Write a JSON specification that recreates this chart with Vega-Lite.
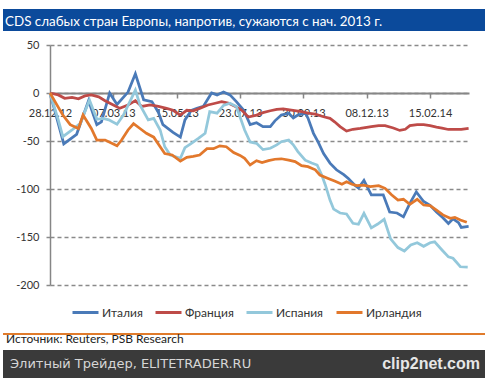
{
  "$schema": "https://vega.github.io/schema/vega-lite/v6.json",
  "background": "white",
  "padding": {"left": 3, "top": 9, "right": 4, "bottom": 0},
  "config": {"view": {"stroke": null}, "font": "Lato"},
  "datasets": {
    "cds": [
      {"country": "Италия", "date": "2012-12-28", "value": 0},
      {"country": "Италия", "date": "2013-01-12", "value": -53},
      {"country": "Италия", "date": "2013-01-26", "value": -43},
      {"country": "Италия", "date": "2013-02-08", "value": -8},
      {"country": "Италия", "date": "2013-02-17", "value": -33},
      {"country": "Италия", "date": "2013-02-22", "value": -30},
      {"country": "Италия", "date": "2013-03-03", "value": 0},
      {"country": "Италия", "date": "2013-03-11", "value": -12},
      {"country": "Италия", "date": "2013-03-23", "value": 1},
      {"country": "Италия", "date": "2013-03-31", "value": 20},
      {"country": "Италия", "date": "2013-04-09", "value": -7},
      {"country": "Италия", "date": "2013-04-18", "value": -9},
      {"country": "Италия", "date": "2013-04-25", "value": -20},
      {"country": "Италия", "date": "2013-04-30", "value": -33},
      {"country": "Италия", "date": "2013-05-11", "value": -41},
      {"country": "Италия", "date": "2013-05-19", "value": -46},
      {"country": "Италия", "date": "2013-05-24", "value": -28},
      {"country": "Италия", "date": "2013-05-31", "value": -18},
      {"country": "Италия", "date": "2013-06-06", "value": -16},
      {"country": "Италия", "date": "2013-06-13", "value": -14},
      {"country": "Италия", "date": "2013-06-22", "value": 0},
      {"country": "Италия", "date": "2013-06-28", "value": -2},
      {"country": "Италия", "date": "2013-07-05", "value": 1},
      {"country": "Италия", "date": "2013-07-12", "value": -2},
      {"country": "Италия", "date": "2013-07-19", "value": -9},
      {"country": "Италия", "date": "2013-07-27", "value": -18},
      {"country": "Италия", "date": "2013-08-03", "value": -33},
      {"country": "Италия", "date": "2013-08-10", "value": -31},
      {"country": "Италия", "date": "2013-08-17", "value": -35},
      {"country": "Италия", "date": "2013-08-25", "value": -35},
      {"country": "Италия", "date": "2013-08-30", "value": -29},
      {"country": "Италия", "date": "2013-09-06", "value": -23},
      {"country": "Италия", "date": "2013-09-14", "value": -21},
      {"country": "Италия", "date": "2013-09-19", "value": -26},
      {"country": "Италия", "date": "2013-09-24", "value": -23},
      {"country": "Италия", "date": "2013-10-02", "value": -21},
      {"country": "Италия", "date": "2013-10-05", "value": -26},
      {"country": "Италия", "date": "2013-10-11", "value": -42},
      {"country": "Италия", "date": "2013-10-16", "value": -51},
      {"country": "Италия", "date": "2013-10-22", "value": -63},
      {"country": "Италия", "date": "2013-10-29", "value": -73},
      {"country": "Италия", "date": "2013-11-05", "value": -80},
      {"country": "Италия", "date": "2013-11-13", "value": -85},
      {"country": "Италия", "date": "2013-11-18", "value": -89},
      {"country": "Италия", "date": "2013-11-25", "value": -96},
      {"country": "Италия", "date": "2013-11-29", "value": -99},
      {"country": "Италия", "date": "2013-12-05", "value": -91},
      {"country": "Италия", "date": "2013-12-13", "value": -106},
      {"country": "Италия", "date": "2013-12-26", "value": -106},
      {"country": "Италия", "date": "2014-01-02", "value": -124},
      {"country": "Италия", "date": "2014-01-10", "value": -125},
      {"country": "Италия", "date": "2014-01-17", "value": -129},
      {"country": "Италия", "date": "2014-01-24", "value": -115},
      {"country": "Италия", "date": "2014-01-31", "value": -103},
      {"country": "Италия", "date": "2014-02-08", "value": -113},
      {"country": "Италия", "date": "2014-02-15", "value": -117},
      {"country": "Италия", "date": "2014-02-22", "value": -124},
      {"country": "Италия", "date": "2014-03-01", "value": -130},
      {"country": "Италия", "date": "2014-03-07", "value": -136},
      {"country": "Италия", "date": "2014-03-12", "value": -131},
      {"country": "Италия", "date": "2014-03-18", "value": -135},
      {"country": "Италия", "date": "2014-03-21", "value": -140},
      {"country": "Италия", "date": "2014-03-29", "value": -139},

      {"country": "Франция", "date": "2012-12-28", "value": 0},
      {"country": "Франция", "date": "2013-01-06", "value": -2},
      {"country": "Франция", "date": "2013-01-13", "value": -5.5},
      {"country": "Франция", "date": "2013-01-21", "value": -4.5},
      {"country": "Франция", "date": "2013-01-28", "value": -6},
      {"country": "Франция", "date": "2013-02-04", "value": -3},
      {"country": "Франция", "date": "2013-02-11", "value": -2},
      {"country": "Франция", "date": "2013-02-19", "value": -4},
      {"country": "Франция", "date": "2013-02-26", "value": -8},
      {"country": "Франция", "date": "2013-03-07", "value": -12.5},
      {"country": "Франция", "date": "2013-03-14", "value": -16},
      {"country": "Франция", "date": "2013-03-23", "value": -12.5},
      {"country": "Франция", "date": "2013-03-31", "value": -8},
      {"country": "Франция", "date": "2013-04-07", "value": -14},
      {"country": "Франция", "date": "2013-04-16", "value": -12.5},
      {"country": "Франция", "date": "2013-04-25", "value": -14},
      {"country": "Франция", "date": "2013-05-04", "value": -16},
      {"country": "Франция", "date": "2013-05-11", "value": -18},
      {"country": "Франция", "date": "2013-05-19", "value": -23},
      {"country": "Франция", "date": "2013-05-26", "value": -18},
      {"country": "Франция", "date": "2013-06-02", "value": -18.5},
      {"country": "Франция", "date": "2013-06-09", "value": -16},
      {"country": "Франция", "date": "2013-06-18", "value": -12.5},
      {"country": "Франция", "date": "2013-06-26", "value": -10.7},
      {"country": "Франция", "date": "2013-07-03", "value": -9},
      {"country": "Франция", "date": "2013-07-10", "value": -10.5},
      {"country": "Франция", "date": "2013-07-18", "value": -14},
      {"country": "Франция", "date": "2013-07-25", "value": -18},
      {"country": "Франция", "date": "2013-08-01", "value": -25},
      {"country": "Франция", "date": "2013-08-10", "value": -23},
      {"country": "Франция", "date": "2013-08-17", "value": -20.5},
      {"country": "Франция", "date": "2013-08-25", "value": -18.5},
      {"country": "Франция", "date": "2013-09-01", "value": -17},
      {"country": "Франция", "date": "2013-09-08", "value": -16.5},
      {"country": "Франция", "date": "2013-09-15", "value": -17.5},
      {"country": "Франция", "date": "2013-09-28", "value": -19.5},
      {"country": "Франция", "date": "2013-10-05", "value": -21},
      {"country": "Франция", "date": "2013-10-13", "value": -22},
      {"country": "Франция", "date": "2013-10-22", "value": -24.7},
      {"country": "Франция", "date": "2013-10-29", "value": -26.4},
      {"country": "Франция", "date": "2013-11-03", "value": -30},
      {"country": "Франция", "date": "2013-11-09", "value": -35},
      {"country": "Франция", "date": "2013-11-16", "value": -39.6},
      {"country": "Франция", "date": "2013-11-23", "value": -37.8},
      {"country": "Франция", "date": "2013-12-01", "value": -36.8},
      {"country": "Франция", "date": "2013-12-08", "value": -35.7},
      {"country": "Франция", "date": "2013-12-13", "value": -35},
      {"country": "Франция", "date": "2013-12-21", "value": -34},
      {"country": "Франция", "date": "2013-12-28", "value": -34},
      {"country": "Франция", "date": "2014-01-06", "value": -36.5},
      {"country": "Франция", "date": "2014-01-13", "value": -39},
      {"country": "Франция", "date": "2014-01-19", "value": -37.8},
      {"country": "Франция", "date": "2014-01-24", "value": -34},
      {"country": "Франция", "date": "2014-02-01", "value": -33},
      {"country": "Франция", "date": "2014-02-08", "value": -33},
      {"country": "Франция", "date": "2014-02-15", "value": -34},
      {"country": "Франция", "date": "2014-02-22", "value": -35.5},
      {"country": "Франция", "date": "2014-02-28", "value": -36.5},
      {"country": "Франция", "date": "2014-03-07", "value": -38},
      {"country": "Франция", "date": "2014-03-14", "value": -37.8},
      {"country": "Франция", "date": "2014-03-21", "value": -37.8},
      {"country": "Франция", "date": "2014-03-29", "value": -36.8},

      {"country": "Испания", "date": "2012-12-28", "value": 0},
      {"country": "Испания", "date": "2013-01-06", "value": -28},
      {"country": "Испания", "date": "2013-01-11", "value": -45.5},
      {"country": "Испания", "date": "2013-01-21", "value": -38.5},
      {"country": "Испания", "date": "2013-01-30", "value": -31.6},
      {"country": "Испания", "date": "2013-02-09", "value": -7.3},
      {"country": "Испания", "date": "2013-02-17", "value": -27.4},
      {"country": "Испания", "date": "2013-02-24", "value": -26.4},
      {"country": "Испания", "date": "2013-03-02", "value": -28},
      {"country": "Испания", "date": "2013-03-11", "value": -32.6},
      {"country": "Испания", "date": "2013-03-18", "value": -23},
      {"country": "Испания", "date": "2013-03-25", "value": -9},
      {"country": "Испания", "date": "2013-03-31", "value": 3},
      {"country": "Испания", "date": "2013-04-05", "value": -12.5},
      {"country": "Испания", "date": "2013-04-14", "value": -28},
      {"country": "Испания", "date": "2013-04-20", "value": -26.4},
      {"country": "Испания", "date": "2013-04-27", "value": -38.5},
      {"country": "Испания", "date": "2013-05-02", "value": -56},
      {"country": "Испания", "date": "2013-05-08", "value": -64.6},
      {"country": "Испания", "date": "2013-05-19", "value": -68},
      {"country": "Испания", "date": "2013-05-24", "value": -57},
      {"country": "Испания", "date": "2013-05-31", "value": -52.4},
      {"country": "Испания", "date": "2013-06-08", "value": -47},
      {"country": "Испания", "date": "2013-06-15", "value": -42},
      {"country": "Испания", "date": "2013-06-20", "value": -19.5},
      {"country": "Испания", "date": "2013-06-28", "value": -21},
      {"country": "Испания", "date": "2013-07-05", "value": -13},
      {"country": "Испания", "date": "2013-07-12", "value": -10.7},
      {"country": "Испания", "date": "2013-07-19", "value": -14},
      {"country": "Испания", "date": "2013-07-28", "value": -38.5},
      {"country": "Испания", "date": "2013-08-03", "value": -51},
      {"country": "Испания", "date": "2013-08-10", "value": -52.4},
      {"country": "Испания", "date": "2013-08-17", "value": -59},
      {"country": "Испания", "date": "2013-08-25", "value": -57.6},
      {"country": "Испания", "date": "2013-09-01", "value": -54},
      {"country": "Испания", "date": "2013-09-06", "value": -50.7},
      {"country": "Испания", "date": "2013-09-14", "value": -49},
      {"country": "Испания", "date": "2013-09-19", "value": -54},
      {"country": "Испания", "date": "2013-09-24", "value": -61},
      {"country": "Испания", "date": "2013-10-02", "value": -70},
      {"country": "Испания", "date": "2013-10-09", "value": -73},
      {"country": "Испания", "date": "2013-10-15", "value": -75},
      {"country": "Испания", "date": "2013-10-20", "value": -85.4},
      {"country": "Испания", "date": "2013-10-24", "value": -96},
      {"country": "Испания", "date": "2013-10-29", "value": -111.5},
      {"country": "Испания", "date": "2013-11-02", "value": -121},
      {"country": "Испания", "date": "2013-11-09", "value": -125},
      {"country": "Испания", "date": "2013-11-16", "value": -126},
      {"country": "Испания", "date": "2013-11-23", "value": -135.7},
      {"country": "Испания", "date": "2013-11-29", "value": -136.7},
      {"country": "Испания", "date": "2013-12-05", "value": -125.3},
      {"country": "Испания", "date": "2013-12-13", "value": -140.5},
      {"country": "Испания", "date": "2013-12-20", "value": -136.5},
      {"country": "Испания", "date": "2013-12-27", "value": -131.6},
      {"country": "Испания", "date": "2014-01-03", "value": -152},
      {"country": "Испания", "date": "2014-01-11", "value": -161},
      {"country": "Испания", "date": "2014-01-18", "value": -164.6},
      {"country": "Испания", "date": "2014-01-25", "value": -158.3},
      {"country": "Испания", "date": "2014-02-01", "value": -156},
      {"country": "Испания", "date": "2014-02-08", "value": -159.7},
      {"country": "Испания", "date": "2014-02-15", "value": -156},
      {"country": "Испания", "date": "2014-02-20", "value": -155},
      {"country": "Испания", "date": "2014-02-28", "value": -163.5},
      {"country": "Испания", "date": "2014-03-07", "value": -170.7},
      {"country": "Испания", "date": "2014-03-12", "value": -172.2},
      {"country": "Испания", "date": "2014-03-20", "value": -181},
      {"country": "Испания", "date": "2014-03-28", "value": -181.3},

      {"country": "Ирландия", "date": "2012-12-28", "value": 0},
      {"country": "Ирландия", "date": "2013-01-11", "value": -23},
      {"country": "Ирландия", "date": "2013-01-19", "value": -33},
      {"country": "Ирландия", "date": "2013-01-28", "value": -37},
      {"country": "Ирландия", "date": "2013-02-02", "value": -23},
      {"country": "Ирландия", "date": "2013-02-11", "value": -37},
      {"country": "Ирландия", "date": "2013-02-17", "value": -49},
      {"country": "Ирландия", "date": "2013-02-26", "value": -49},
      {"country": "Ирландия", "date": "2013-03-11", "value": -55},
      {"country": "Ирландия", "date": "2013-03-16", "value": -49},
      {"country": "Ирландия", "date": "2013-03-23", "value": -38.5},
      {"country": "Ирландия", "date": "2013-03-29", "value": -32},
      {"country": "Ирландия", "date": "2013-04-05", "value": -37},
      {"country": "Ирландия", "date": "2013-04-12", "value": -42},
      {"country": "Ирландия", "date": "2013-04-20", "value": -46},
      {"country": "Ирландия", "date": "2013-04-27", "value": -56},
      {"country": "Ирландия", "date": "2013-05-02", "value": -63},
      {"country": "Ирландия", "date": "2013-05-10", "value": -64.6},
      {"country": "Ирландия", "date": "2013-05-19", "value": -71},
      {"country": "Ирландия", "date": "2013-05-26", "value": -67},
      {"country": "Ирландия", "date": "2013-06-02", "value": -66},
      {"country": "Ирландия", "date": "2013-06-09", "value": -64.6},
      {"country": "Ирландия", "date": "2013-06-17", "value": -58},
      {"country": "Ирландия", "date": "2013-06-24", "value": -58},
      {"country": "Ирландия", "date": "2013-07-01", "value": -55},
      {"country": "Ирландия", "date": "2013-07-08", "value": -56},
      {"country": "Ирландия", "date": "2013-07-16", "value": -62},
      {"country": "Ирландия", "date": "2013-07-23", "value": -65},
      {"country": "Ирландия", "date": "2013-07-28", "value": -68},
      {"country": "Ирландия", "date": "2013-08-03", "value": -75},
      {"country": "Ирландия", "date": "2013-08-10", "value": -70.5},
      {"country": "Ирландия", "date": "2013-08-16", "value": -72.5},
      {"country": "Ирландия", "date": "2013-08-23", "value": -70.5},
      {"country": "Ирландия", "date": "2013-08-30", "value": -69},
      {"country": "Ирландия", "date": "2013-09-06", "value": -68.5},
      {"country": "Ирландия", "date": "2013-09-14", "value": -70},
      {"country": "Ирландия", "date": "2013-09-21", "value": -71.5},
      {"country": "Ирландия", "date": "2013-09-28", "value": -75.7},
      {"country": "Ирландия", "date": "2013-10-05", "value": -76.7},
      {"country": "Ирландия", "date": "2013-10-13", "value": -80},
      {"country": "Ирландия", "date": "2013-10-18", "value": -85.4},
      {"country": "Ирландия", "date": "2013-10-27", "value": -89},
      {"country": "Ирландия", "date": "2013-11-03", "value": -91.7},
      {"country": "Ирландия", "date": "2013-11-11", "value": -95},
      {"country": "Ирландия", "date": "2013-11-16", "value": -92.4},
      {"country": "Ирландия", "date": "2013-11-22", "value": -95},
      {"country": "Ирландия", "date": "2013-11-27", "value": -96.5},
      {"country": "Ирландия", "date": "2013-12-04", "value": -96},
      {"country": "Ирландия", "date": "2013-12-12", "value": -97.6},
      {"country": "Ирландия", "date": "2013-12-21", "value": -96.5},
      {"country": "Ирландия", "date": "2013-12-28", "value": -99.3},
      {"country": "Ирландия", "date": "2014-01-04", "value": -106},
      {"country": "Ирландия", "date": "2014-01-11", "value": -111.5},
      {"country": "Ирландия", "date": "2014-01-17", "value": -110.7},
      {"country": "Ирландия", "date": "2014-01-24", "value": -116},
      {"country": "Ирландия", "date": "2014-02-01", "value": -110.7},
      {"country": "Ирландия", "date": "2014-02-08", "value": -116.7},
      {"country": "Ирландия", "date": "2014-02-15", "value": -117.4},
      {"country": "Ирландия", "date": "2014-02-22", "value": -122},
      {"country": "Ирландия", "date": "2014-03-01", "value": -127},
      {"country": "Ирландия", "date": "2014-03-09", "value": -130.5},
      {"country": "Ирландия", "date": "2014-03-14", "value": -129.5},
      {"country": "Ирландия", "date": "2014-03-20", "value": -132.3},
      {"country": "Ирландия", "date": "2014-03-27", "value": -134.7}
    ]
  },
  "bounds": "flush",
  "spacing": 14,
  "vconcat": [
    {
      "width": 482,
      "height": 22,
      "view": {"fill": "#0b4a9b", "stroke": null},
      "data": {"values": []},
      "mark": "point",
      "title": {
        "text": "CDS слабых стран Европы, напротив, сужаются с нач. 2013 г.",
        "anchor": "start",
        "orient": "top",
        "baseline": "top",
        "offset": -19,
        "dx": 2,
        "color": "#ffffff",
        "font": "Lato",
        "fontSize": 13.4,
        "fontWeight": "normal"
      }
    },
    {
      "bounds": "flush",
      "spacing": 288,
      "vconcat": [
        {
          "bounds": "flush",
          "spacing": 0,
          "hconcat": [
            {"width": 47, "height": 240, "data": {"values": []}, "mark": "point"},
            {
              "width": 419,
              "height": 240,
              "data": {"name": "cds"},
              "mark": {"type": "line", "strokeWidth": 2.75},
              "encoding": {
                "x": {
                  "field": "date",
                  "type": "temporal",
                  "scale": {
                    "type": "utc",
                    "nice": false,
                    "domain": [
                      {"year": 2012, "month": 12, "date": 28, "utc": true},
                      {"year": 2014, "month": 3, "date": 29, "hours": 10, "utc": true}
                    ]
                  },
                  "axis": {
                    "title": null,
                    "values": [
                      {"year": 2012, "month": 12, "date": 28, "utc": true},
                      {"year": 2013, "month": 3, "date": 7, "utc": true},
                      {"year": 2013, "month": 5, "date": 15, "utc": true},
                      {"year": 2013, "month": 7, "date": 23, "utc": true},
                      {"year": 2013, "month": 9, "date": 30, "utc": true},
                      {"year": 2013, "month": 12, "date": 8, "utc": true},
                      {"year": 2014, "month": 2, "date": 15, "utc": true}
                    ],
                    "format": "%d.%m.%y",
                    "offset": -192,
                    "grid": false,
                    "domainColor": "#868686",
                    "domainWidth": 2,
                    "tickColor": "#868686",
                    "tickWidth": 1.5,
                    "tickSize": 5,
                    "labelPadding": 9,
                    "labelFont": "Lato",
                    "labelFontSize": 11,
                    "labelColor": "#333333",
                    "labelFlush": false,
                    "labelOverlap": false
                  }
                },
                "y": {
                  "field": "value",
                  "type": "quantitative",
                  "scale": {"domain": [-200, 50], "nice": false, "zero": false},
                  "axis": {
                    "title": null,
                    "values": [-200, -150, -100, -50, 0, 50],
                    "labelExpr": "'' + datum.value",
                    "grid": true,
                    "gridDash": [4, 3],
                    "gridColor": "#8a8a8a",
                    "gridWidth": 1.5,
                    "domainColor": "#868686",
                    "domainWidth": 1.5,
                    "tickColor": "#8a8a8a",
                    "tickWidth": 1.5,
                    "tickSize": 4,
                    "labelPadding": 7,
                    "labelFont": "Lato",
                    "labelFontSize": 11,
                    "labelColor": "#333333"
                  }
                },
                "color": {
                  "field": "country",
                  "type": "nominal",
                  "sort": ["Италия", "Франция", "Испания", "Ирландия"],
                  "scale": {
                    "domain": ["Италия", "Франция", "Испания", "Ирландия"],
                    "range": ["#4a7ab8", "#be4b48", "#93c8db", "#e2782c"]
                  },
                  "legend": {
                    "title": null,
                    "orient": "none",
                    "direction": "horizontal",
                    "legendX": 68,
                    "legendY": 289,
                    "padding": 0,
                    "gridAlign": "none",
                    "symbolType": "stroke",
                    "symbolSize": 676,
                    "symbolStrokeWidth": 3,
                    "labelFont": "Lato",
                    "labelFontSize": 12,
                    "labelColor": "#333333",
                    "labelOffset": 2,
                    "columnPadding": 6
                  }
                }
              }
            }
          ]
        },
        {
          "bounds": "flush",
          "spacing": 0,
          "vconcat": [
            {
              "width": 482,
              "height": 2,
              "view": {"fill": "#e07b2b", "stroke": null},
              "data": {"values": []},
              "mark": "point"
            },
            {
              "width": 482,
              "height": 15,
              "data": {"values": []},
              "mark": "point",
              "title": {
                "text": "Источник: Reuters, PSB Research",
                "anchor": "start",
                "orient": "top",
                "baseline": "top",
                "offset": -11,
                "dx": 3,
                "color": "#222222",
                "font": "Lato",
                "fontSize": 12,
                "fontWeight": "normal"
              }
            },
            {
              "bounds": "flush",
              "spacing": 0,
              "hconcat": [
                {
                  "width": 360,
                  "height": 28,
                  "view": {"fill": "#3a3a3a", "stroke": null},
                  "data": {"values": []},
                  "mark": "point",
                  "title": {
                    "text": "Элитный Трейдер, ELITETRADER.RU",
                    "anchor": "start",
                    "orient": "top",
                    "baseline": "top",
                    "offset": -21,
                    "dx": 7,
                    "color": "#d6d6d6",
                    "font": "DejaVu Sans",
                    "fontSize": 13,
                    "fontWeight": "normal"
                  }
                },
                {
                  "width": 122,
                  "height": 28,
                  "view": {"fill": "#3a3a3a", "stroke": null},
                  "data": {"values": []},
                  "mark": "point",
                  "title": {
                    "text": "clip2net.com",
                    "anchor": "end",
                    "orient": "top",
                    "baseline": "top",
                    "offset": -22,
                    "dx": -5,
                    "color": "#e6e6e6",
                    "font": "Liberation Sans",
                    "fontSize": 16,
                    "fontWeight": "bold"
                  }
                }
              ]
            }
          ]
        }
      ]
    }
  ]
}
